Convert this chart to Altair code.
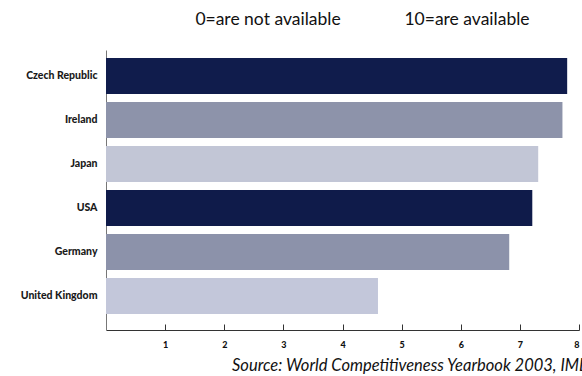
import altair as alt
import pandas as pd

countries = ["Czech Republic", "Ireland", "Japan", "USA", "Germany", "United Kingdom"]
values = [7.80, 7.72, 7.31, 7.21, 6.82, 4.60]
colors = ["#101c4c", "#8d93aa", "#c2c6d6", "#0f1b4a", "#8c92aa", "#c3c7da"]
tick_values = [1, 2, 3, 4, 5, 6, 7, 8]
legend_texts = ["0=are not available", "10=are available"]
source_text = "Source: World Competitiveness Yearbook 2003, IMD"

df = pd.DataFrame({"country": countries, "value": values, "color": colors})

FONT = "Lato"

x_scale = alt.Scale(domain=[0, 8], nice=False, zero=True)
y_scale = alt.Scale(paddingInner=0.18, paddingOuter=0.272, align=0.333)

y_axis = alt.Axis(title=None, ticks=False, labelPadding=9,
                  labelFont=FONT, labelFontWeight=900,
                  labelFontSize=10.5, labelColor="#1a1a1a",
                  domainColor="#777777", domainWidth=1)

bars = alt.Chart(df).mark_bar(cornerRadius=0).encode(
    x=alt.X("value:Q", scale=x_scale,
            axis=alt.Axis(values=tick_values, title=None, orient="bottom",
                          tickSize=0, labelPadding=10, labelFont=FONT,
                          labelFontWeight=900, labelFontSize=9,
                          labelColor="#111111", domainColor="#333333",
                          domainWidth=1.2, grid=False)),
    y=alt.Y("country:N", sort=countries, scale=y_scale, axis=y_axis),
    color=alt.Color("color:N", scale=None),
)

ticks = alt.Chart(df).mark_bar(opacity=0).encode(
    x=alt.X("value:Q", scale=x_scale,
            axis=alt.Axis(values=tick_values, title=None, orient="bottom",
                          offset=-6, tickSize=6, tickColor="#333333",
                          tickWidth=1, labels=False, domain=False, grid=False)),
    y=alt.Y("country:N", sort=countries, scale=y_scale, axis=y_axis),
)

legend1 = alt.Chart(pd.DataFrame({"t": [legend_texts[0]]})).mark_text(
    font=FONT, fontSize=17.5, color="#111111", align="center", baseline="middle"
).encode(text="t:N", x=alt.value(162), y=alt.value(-30))
legend2 = alt.Chart(pd.DataFrame({"t": [legend_texts[1]]})).mark_text(
    font=FONT, fontSize=17.5, color="#111111", align="center", baseline="middle"
).encode(text="t:N", x=alt.value(361), y=alt.value(-30))

source = alt.Chart(pd.DataFrame({"t": [source_text]})).mark_text(
    font=FONT, fontSize=16.5, fontStyle="italic", color="#111111",
    align="left", baseline="middle"
).encode(text="t:N", x=alt.value(126), y=alt.value(316))

chart = alt.layer(bars, ticks, legend1, legend2, source).resolve_axis(
    x="independent"
).properties(
    width=473, height=280,
    autosize=alt.AutoSizeParams(type="none"),
    padding={"left": 106, "top": 50, "right": 3, "bottom": 46},
    background="white",
).configure_view(stroke=None)

chart.save("out.html", embed_options={"renderer": "svg", "actions": False})
